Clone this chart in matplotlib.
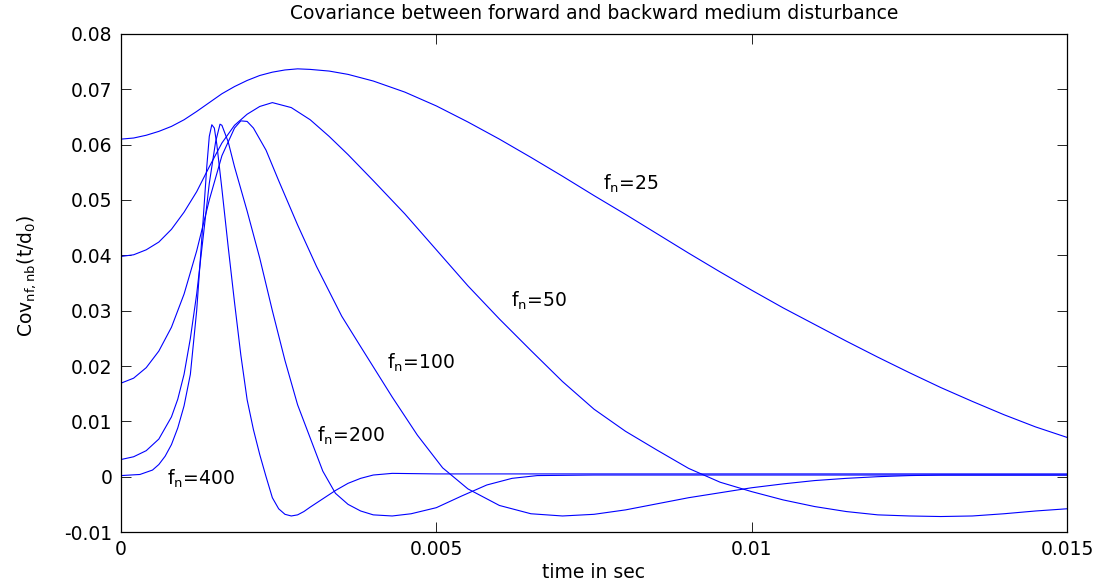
import matplotlib
matplotlib.use("Agg")
import matplotlib.pyplot as plt

plt.rcParams["font.family"] = ["DejaVu Sans"]
plt.rcParams["mathtext.fontset"] = "dejavusans"

FS = 13.5

# curves (time in s, covariance)
t25 = [0, 0.0002, 0.0004, 0.0006, 0.0008, 0.001, 0.0012, 0.0014, 0.0016, 0.0018,
       0.002, 0.0022, 0.0024, 0.0026, 0.0028, 0.003, 0.0033, 0.0036, 0.004, 0.0045,
       0.005, 0.0055, 0.006, 0.0065, 0.007, 0.0075, 0.008, 0.0085, 0.009, 0.0095,
       0.01, 0.0105, 0.011, 0.0115, 0.012, 0.0125, 0.013, 0.0135, 0.014, 0.0145, 0.015]
v25 = [0.0610, 0.0612, 0.0617, 0.0624, 0.0633, 0.0645, 0.0660, 0.0676, 0.0692, 0.0705,
       0.0716, 0.0725, 0.0731, 0.0735, 0.0737, 0.0736, 0.0733, 0.0727, 0.0715, 0.0695,
       0.0670, 0.0641, 0.0610, 0.0577, 0.0543, 0.0508, 0.0474, 0.0439, 0.0404, 0.0370,
       0.0337, 0.0305, 0.0275, 0.0245, 0.0216, 0.0188, 0.0161, 0.0136, 0.0112, 0.0090, 0.0071]

t50 = [0, 0.0002, 0.0004, 0.0006, 0.0008, 0.001, 0.0012, 0.0014, 0.0016, 0.0018,
       0.002, 0.0022, 0.0024, 0.0027, 0.003, 0.0033, 0.0036, 0.004, 0.0045, 0.005,
       0.0055, 0.006, 0.0065, 0.007, 0.0075, 0.008, 0.0085, 0.009, 0.0095, 0.01,
       0.0105, 0.011, 0.0115, 0.012, 0.0125, 0.013, 0.0135, 0.014, 0.0145, 0.015]
v50 = [0.0398, 0.0401, 0.0410, 0.0424, 0.0447, 0.0478, 0.0515, 0.0560, 0.0603, 0.0635,
       0.0655, 0.0669, 0.0676, 0.0667, 0.0645, 0.0615, 0.0582, 0.0535, 0.0475, 0.0410,
       0.0345, 0.0285, 0.0228, 0.0172, 0.0122, 0.0082, 0.0048, 0.0015, -0.0010, -0.0027,
       -0.0042, -0.0054, -0.0063, -0.0069, -0.0071, -0.0072, -0.0071, -0.0067, -0.0062, -0.0058]

t100 = [0, 0.0002, 0.0004, 0.0006, 0.0008, 0.001, 0.0012, 0.0014, 0.0016, 0.0018,
        0.0019, 0.002, 0.0021, 0.0023, 0.0025, 0.0028, 0.0031, 0.0035, 0.0038, 0.0043,
        0.0047, 0.0051, 0.0055, 0.006, 0.0065, 0.007, 0.0075, 0.008, 0.0085, 0.009,
        0.0095, 0.01, 0.0105, 0.011, 0.0115, 0.012, 0.0125, 0.013, 0.015]
v100 = [0.0169, 0.0178, 0.0197, 0.0227, 0.0270, 0.0330, 0.0408, 0.0500, 0.0580, 0.0630,
        0.0643, 0.0642, 0.0630, 0.0590, 0.0535, 0.0455, 0.0380, 0.0290, 0.0235, 0.0144,
        0.0075, 0.0016, -0.0022, -0.0052, -0.0067, -0.0071, -0.0068, -0.0060, -0.0049, -0.0038,
        -0.0029, -0.0020, -0.0013, -0.0007, -0.0003, 0.0000, 0.0002, 0.0003, 0.0003]

t200 = [0, 0.0002, 0.0004, 0.0006, 0.0008, 0.0009, 0.001, 0.0011, 0.0012, 0.0013,
        0.0014, 0.0015, 0.00157, 0.0016, 0.0017, 0.0018, 0.002, 0.0022, 0.0024, 0.0026,
        0.0028, 0.003, 0.0032, 0.0034, 0.0036, 0.0038, 0.004, 0.0043, 0.0046, 0.005,
        0.0054, 0.0058, 0.0062, 0.0066, 0.0075, 0.015]
v200 = [0.0031, 0.0036, 0.0047, 0.0068, 0.0108, 0.0140, 0.0185, 0.0250, 0.0330, 0.0430,
        0.0530, 0.0605, 0.0637, 0.0635, 0.0605, 0.0560, 0.0480, 0.0395, 0.0300, 0.0210,
        0.0130, 0.0070, 0.0010, -0.0030, -0.0050, -0.0062, -0.0069, -0.0071, -0.0067, -0.0056,
        -0.0035, -0.0015, -0.0003, 0.0002, 0.0003, 0.0003]

t400 = [0, 0.0003, 0.0005, 0.0006, 0.0007, 0.0008, 0.0009, 0.001, 0.0011, 0.0012,
        0.0013, 0.00136, 0.0014, 0.00144, 0.00148, 0.00152, 0.0016, 0.0017, 0.0018, 0.0019,
        0.002, 0.0021, 0.0022, 0.0023, 0.0024, 0.0025, 0.0026, 0.0027, 0.0028, 0.0029,
        0.003, 0.0032, 0.0034, 0.0036, 0.0038, 0.004, 0.0043, 0.005, 0.015]
v400 = [0.0002, 0.0004, 0.0012, 0.0022, 0.0037, 0.0058, 0.0088, 0.0128, 0.0185, 0.0300,
        0.0460, 0.0560, 0.0615, 0.0636, 0.0630, 0.0600, 0.0520, 0.0415, 0.0315, 0.0220,
        0.0139, 0.0085, 0.0040, 0.0000, -0.0038, -0.0058, -0.0068, -0.0071, -0.0069, -0.0063,
        -0.0055, -0.0040, -0.0025, -0.0012, -0.0003, 0.0003, 0.0006, 0.0005, 0.0005]

curve_t = [t25, t50, t100, t200, t400]
curve_v = [v25, v50, v100, v200, v400]

# label text and anchor (data coords, left/centre)
label_text = [r"f$_\mathrm{n}$=25", r"f$_\mathrm{n}$=50", r"f$_\mathrm{n}$=100",
              r"f$_\mathrm{n}$=200", r"f$_\mathrm{n}$=400"]
label_t = [0.00765, 0.00619, 0.00422, 0.00311, 0.00073]
label_v = [0.0530, 0.0317, 0.0205, 0.0073, -0.0004]

xticks = [0, 0.005, 0.01, 0.015]
xticklabels = ["0", "0.005", "0.01", "0.015"]
yticks = [-0.01, 0, 0.01, 0.02, 0.03, 0.04, 0.05, 0.06, 0.07, 0.08]
yticklabels = ["-0.01", "0", "0.01", "0.02", "0.03", "0.04", "0.05", "0.06", "0.07", "0.08"]

fig = plt.figure(figsize=(11.08, 5.88), dpi=100)
ax = fig.add_axes([0.1092, 0.0952, 0.8538, 0.847])

for t, v in zip(curve_t, curve_v):
    ax.plot(t, v, color="#0000ff", linewidth=0.8)

for txt, x, y in zip(label_text, label_t, label_v):
    ax.text(x, y, txt, fontsize=FS, ha="left", va="center")

ax.set_xlim(0, 0.015)
ax.set_ylim(-0.01, 0.08)
ax.set_xticks(xticks)
ax.set_xticklabels(xticklabels)
ax.set_yticks(yticks)
ax.set_yticklabels(yticklabels)
ax.tick_params(direction="in", top=True, right=True, length=7, width=0.6,
               labelsize=FS, pad=6)
for spine in ax.spines.values():
    spine.set_linewidth(0.9)

ax.set_title("Covariance between forward and backward medium disturbance",
             fontsize=FS, pad=11)
ax.set_xlabel("time in sec", fontsize=FS)
ax.xaxis.set_label_coords(0.5, -0.062)
ax.set_ylabel(r"Cov$_\mathrm{nf,nb}$(t/d$_\mathrm{0}$)", fontsize=FS)
ax.yaxis.set_label_coords(-0.088, 0.515)

fig.savefig("out.png", dpi=100)
